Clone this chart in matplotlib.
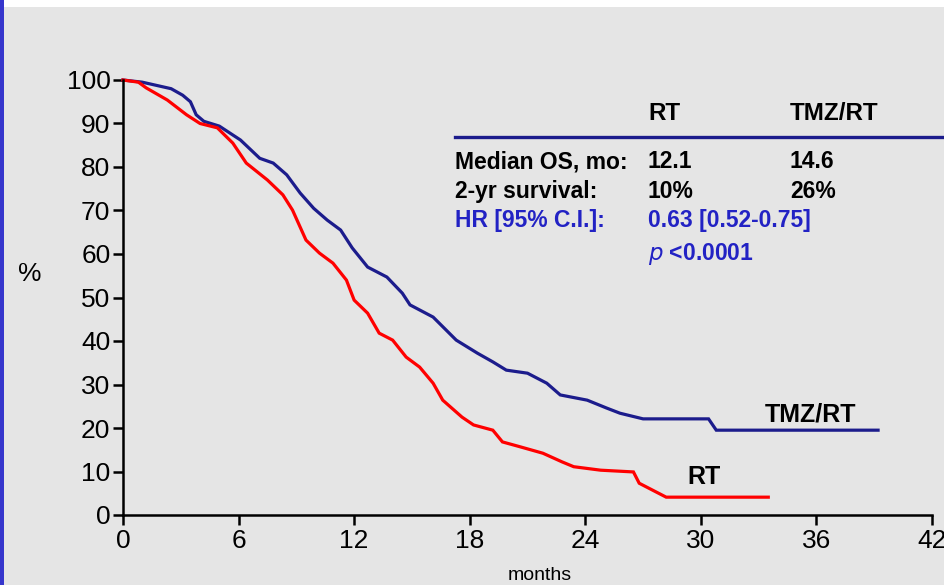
import matplotlib.pyplot as plt
from matplotlib.lines import Line2D
from matplotlib.patches import Rectangle

# Kaplan-Meier curves (months, % surviving)
tmz_months = [0, 1.0, 1.5, 2.5, 3.1, 3.5, 3.8, 4.2, 5.0, 6.1, 7.1, 7.8, 8.5, 9.2, 9.9,
              10.6, 11.3, 11.9, 12.7, 13.7, 14.5, 14.9, 16.1, 17.3, 18.4, 19.2,
              19.9, 21.0, 22.0, 22.7, 24.1, 25.1, 25.8, 27.0, 30.4, 30.8, 39.2]
tmz_surv = [100, 99.5, 99, 98, 96.5, 95, 92, 90.5, 89.4, 86.2, 82, 80.9, 78.2, 74, 70.5,
            67.8, 65.5, 61.4, 57, 54.7, 51, 48.3, 45.5, 40.2, 37.2, 35.2,
            33.3, 32.6, 30.3, 27.6, 26.4, 24.6, 23.4, 22.1, 22.1, 19.5, 19.5]

rt_months = [0, 0.8, 1.2, 2.3, 3.3, 4.0, 4.9, 5.7, 6.4, 7.5, 8.3, 8.8, 9.5, 10.2,
             10.9, 11.6, 12.0, 12.7, 13.3, 14.0, 14.7, 15.4, 16.1, 16.6, 17.6,
             18.2, 19.2, 19.7, 20.6, 21.8, 22.8, 23.4, 24.8, 26.5, 26.8, 27.5,
             28.2, 33.5]
rt_surv = [100, 99.5, 98.2, 95.4, 92, 90, 89, 85.5, 80.9, 77, 73.6, 70.1, 63.2, 60.2,
           57.9, 54, 49.4, 46.4, 41.8, 40.2, 36.3, 34, 30.3, 26.4, 22.5,
           20.7, 19.5, 16.8, 15.7, 14.2, 12.2, 11.1, 10.3, 9.9, 7.3, 5.7,
           4.1, 4.1]

x_ticks = [0, 6, 12, 18, 24, 30, 36, 42]
y_ticks = [0, 10, 20, 30, 40, 50, 60, 70, 80, 90, 100]

# summary table
col_heads = ["RT", "TMZ/RT"]
row_labels = ["Median OS, mo:", "2-yr survival:"]
row_values = [["12.1", "14.6"], ["10%", "26%"]]
hr_label = "HR [95% C.I.]:"
hr_value = "0.63 [0.52-0.75]"

BLUE = "#1c1c8c"
RED = "#ff0000"
TXT_BLUE = "#2222c4"
BG = "#e5e5e5"

plt.rcParams['font.family'] = ['Liberation Sans', 'DejaVu Sans']

W, H = 945, 585
fig = plt.figure(figsize=(W / 100, H / 100), dpi=100, facecolor=BG)

def fx(px):
    return px / W

def fy(py):
    return 1 - py / H

# frame decorations: white strip on top, blue strip on the left
fig.patches.append(Rectangle((0, fy(7)), 1, 7 / H, transform=fig.transFigure,
                             facecolor="white", edgecolor="none", zorder=0))
fig.patches.append(Rectangle((0, 0), 4 / W, 1, transform=fig.transFigure,
                             facecolor="#3636cc", edgecolor="none", zorder=0))

ax = fig.add_axes([fx(123), fy(515), (932 - 123) / W, (515 - 80) / H])
ax.set_facecolor("none")

ax.plot(tmz_months, tmz_surv, color=BLUE, lw=2.3, clip_on=False, solid_joinstyle="miter")
ax.plot(rt_months, rt_surv, color=RED, lw=2.3, clip_on=False, solid_joinstyle="miter")

ax.set_xlim(0, 42)
ax.set_ylim(0, 100)
ax.set_xticks(x_ticks)
ax.set_yticks(y_ticks)
for s in ["top", "right"]:
    ax.spines[s].set_visible(False)
for s in ["left", "bottom"]:
    ax.spines[s].set_linewidth(1.8)
ax.tick_params(axis="both", direction="out", length=7, width=1.8,
               labelsize=19, pad=2)
ax.tick_params(axis="x", pad=3)

ax.text(33.3, 23.2, "TMZ/RT", fontsize=18, fontweight="bold", va="center", ha="left")
ax.text(29.3, 8.8, "RT", fontsize=18, fontweight="bold", va="center", ha="left")

fig.text(fx(18), fy(274), "%", fontsize=19, va="center", ha="left")
fig.text(fx(508), fy(576), "months", fontsize=14, va="center", ha="left")

# table
col_x = [648, 790]
for cx, head in zip(col_x, col_heads):
    fig.text(fx(cx), fy(113), head, fontsize=17.5, fontweight="bold", va="center")
fig.add_artist(Line2D([fx(455), fx(945)], [fy(137), fy(137)], color=BLUE, lw=2.4))
row_y = [162, 192]
for ry, lab, vals in zip(row_y, row_labels, row_values):
    fig.text(fx(455), fy(ry), lab, fontsize=16.5, fontweight="bold", va="center")
    for cx, v in zip(col_x, vals):
        fig.text(fx(cx), fy(ry), v, fontsize=16.5, fontweight="bold", va="center")
fig.text(fx(455), fy(221), hr_label, fontsize=16.5, fontweight="bold", va="center", color=TXT_BLUE)
fig.text(fx(648), fy(221), hr_value, fontsize=16.5, fontweight="bold", va="center", color=TXT_BLUE)
fig.text(fx(648), fy(254), r"$\mathit{p}$ <0.0001", fontsize=16.5, fontweight="bold",
         va="center", color=TXT_BLUE)

fig.savefig("out.png", dpi=100, facecolor=BG)
